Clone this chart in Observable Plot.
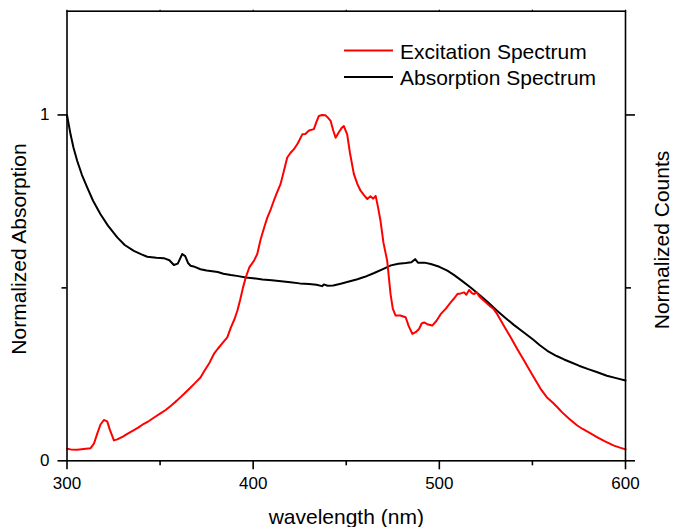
<!DOCTYPE html>
<html>
<head>
<meta charset="utf-8">
<script src="https://cdn.jsdelivr.net/npm/d3@7"></script>
<script src="https://cdn.jsdelivr.net/npm/@observablehq/plot@0.6"></script>
<style>
  html, body { margin: 0; padding: 0; background: #fff; }
  #chart svg { display: block; }
</style>
</head>
<body>
<div id="chart"></div>
<script>
// Absorption spectrum (black)
const absWavelength = [300,301.9,303.5,305.5,308,310.9,314,318,322,327,331,335.9,340,343.1,348,352,355,357.4,359.5,361.9,363.5,365,366.4,368,371.7,375,378,381,384,388,392,396,400,405,410,415,420,425,430,434,437,438,440,443,447,452,456,460,465,470,474,478,482,485,487,488.5,492,495.4,500,504.3,508,512,516.8,521,526,531,536,540,545.4,550,554,558,563,567,570.6,575,580,584.9,590,595,600];
const absValue = [1.000,0.944,0.905,0.867,0.827,0.790,0.752,0.713,0.680,0.646,0.624,0.607,0.597,0.590,0.587,0.586,0.580,0.566,0.570,0.598,0.592,0.572,0.564,0.562,0.554,0.550,0.548,0.546,0.541,0.537,0.534,0.530,0.528,0.524,0.522,0.519,0.516,0.513,0.511,0.509,0.505,0.510,0.506,0.507,0.512,0.519,0.525,0.532,0.543,0.555,0.565,0.570,0.572,0.574,0.583,0.573,0.573,0.569,0.561,0.550,0.537,0.521,0.501,0.482,0.459,0.434,0.411,0.393,0.371,0.352,0.334,0.318,0.303,0.293,0.285,0.275,0.265,0.256,0.246,0.239,0.232];

// Excitation spectrum (red)
const excWavelength = [300,302,305.5,309,312.6,314.5,316.2,318,319.8,321.6,323,325.2,327,330,332.4,335,338,341.3,344,347,350.2,353,356,359,362.8,366,369,371.7,374,376.5,378.9,381,383.5,386.1,388,390,391.5,393,394.5,396,398,400.4,402.2,404,406,407.6,409.5,411.1,413,414.7,416.5,418.3,420,421.9,424,426.4,428,430,432.6,434,435.3,437,438.8,440,441.6,443,444.3,446,447.5,448.7,450.5,452,454.1,456,457.7,459.5,461.3,463,464.5,465.8,467,468.4,470,472,473.8,475,476.5,479,481.9,483.5,485.5,487.3,489.1,490.5,491.8,494,496.2,498.5,500.7,503.5,506.1,508,509.7,511.5,513.3,514.5,516,517.5,518.6,520,521.5,524,527,529,531.1,534.5,538.3,542,545.5,550,554.4,558,561,563.4,566,570,574.1,577,581,584.9,589,593.8,597,600];
const excValue = [0.035,0.033,0.032,0.034,0.036,0.050,0.078,0.105,0.118,0.114,0.090,0.059,0.062,0.070,0.078,0.086,0.095,0.107,0.115,0.126,0.137,0.147,0.160,0.174,0.193,0.210,0.226,0.241,0.262,0.283,0.309,0.324,0.340,0.357,0.385,0.410,0.434,0.465,0.500,0.530,0.560,0.578,0.598,0.640,0.676,0.703,0.728,0.752,0.778,0.800,0.838,0.877,0.890,0.901,0.918,0.944,0.945,0.955,0.959,0.980,0.997,1.000,0.999,0.993,0.983,0.955,0.934,0.950,0.962,0.968,0.944,0.890,0.829,0.800,0.781,0.768,0.757,0.765,0.758,0.766,0.735,0.694,0.630,0.578,0.482,0.440,0.420,0.420,0.415,0.390,0.367,0.372,0.381,0.397,0.400,0.394,0.391,0.405,0.424,0.440,0.458,0.470,0.482,0.484,0.487,0.480,0.494,0.485,0.482,0.488,0.475,0.463,0.448,0.440,0.424,0.392,0.357,0.322,0.290,0.248,0.208,0.182,0.168,0.155,0.140,0.120,0.102,0.092,0.080,0.068,0.056,0.044,0.038,0.033];

// Ticks and labels
const xMajorTicks = [300, 400, 500, 600];
const xMinorTicks = [350, 450, 550];
const xTopTicks = [300, 350, 400, 450, 500, 550, 600];
const yMajorTicks = [0, 1];
const yMinorTicks = [0.5];
const xTitle = "wavelength (nm)";
const yLeftTitle = "Normalized Absorption";
const yRightTitle = "Normalized Counts";
const seriesNames = ["Excitation Spectrum", "Absorption Spectrum"];
const seriesColors = ["#ff0000", "#000000"];

const absData = absWavelength.map((w, i) => ({w, v: absValue[i]}));
const excData = excWavelength.map((w, i) => ({w, v: excValue[i]}));

const font = "'Liberation Sans', Arial, Helvetica, sans-serif";
const empty = () => "";

const chart = Plot.plot({
  width: 673,
  height: 527,
  marginLeft: 66.5,
  marginRight: 48,
  marginTop: 10.7,
  marginBottom: 66.7,
  x: {domain: [300, 600]},
  y: {domain: [0, 1.3]},
  style: {fontFamily: font, fontSize: "17px", color: "#000", background: "#fff", overflow: "visible"},
  marks: [
    Plot.line(absData, {x: "w", y: "v", stroke: seriesColors[1], strokeWidth: 2}),
    Plot.line(excData, {x: "w", y: "v", stroke: seriesColors[0], strokeWidth: 2}),
    Plot.frame({stroke: "#000", strokeWidth: 1.6}),
    Plot.axisX(xMajorTicks, {anchor: "bottom", tickSize: 9, tickPadding: 7, fontSize: 17, strokeWidth: 1.6, label: null}),
    Plot.axisX(xMinorTicks, {anchor: "bottom", tickSize: 5, tickFormat: empty, strokeWidth: 1.6, label: null}),
    Plot.axisX(xTopTicks, {anchor: "top", tickSize: 2, tickFormat: empty, strokeWidth: 1.2, label: null}),
    Plot.axisY(yMajorTicks, {anchor: "left", tickSize: 9, tickPadding: 8.5, fontSize: 17, strokeWidth: 1.6, label: null, tickFormat: d => String(d)}),
    Plot.axisY(yMinorTicks, {anchor: "left", tickSize: 5, tickFormat: empty, strokeWidth: 1.6, label: null}),
    Plot.axisY(yMajorTicks, {anchor: "right", tickSize: 9, tickFormat: empty, strokeWidth: 1.6, label: null}),
    Plot.axisY(yMinorTicks, {anchor: "right", tickSize: 5, tickFormat: empty, strokeWidth: 1.6, label: null}),
    Plot.text([xTitle], {frameAnchor: "bottom", dy: 56, fontSize: 21, lineAnchor: "middle", textAnchor: "middle", text: d => d}),
    Plot.text([yLeftTitle], {frameAnchor: "left", rotate: -90, dx: -48, dy: 13, fontSize: 21, lineAnchor: "middle", textAnchor: "middle", text: d => d}),
    Plot.text([yRightTitle], {frameAnchor: "right", rotate: -90, dx: 37, dy: 4, fontSize: 21, lineAnchor: "middle", textAnchor: "middle", text: d => d})
  ]
});

document.getElementById("chart").appendChild(chart);

// Legend (layout element, drawn inside the plot frame)
const svg = d3.select(chart);
const leg = svg.append("g").attr("transform", "translate(344,50.5)")
  .attr("font-family", font).attr("font-size", 21).attr("text-anchor", "start");
seriesNames.forEach((name, i) => {
  const g = leg.append("g").attr("transform", `translate(0,${i * 26.5})`);
  g.append("line").attr("x1", 0).attr("x2", 49).attr("y1", 0).attr("y2", 0)
    .attr("stroke", seriesColors[i]).attr("stroke-width", 2);
  g.append("text").attr("x", 56).attr("y", 8.3).attr("fill", "#000")
    .attr("text-anchor", "start").text(name);
});
</script>
</body>
</html>
